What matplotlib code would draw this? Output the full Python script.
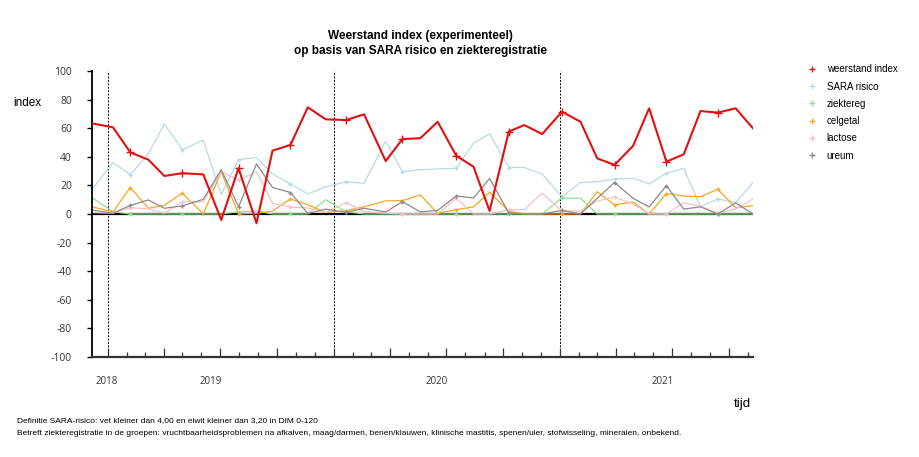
import pandas as pd
import matplotlib
matplotlib.use("Agg")
import matplotlib.pyplot as plt
import matplotlib.dates as mdates
from matplotlib.lines import Line2D
from matplotlib.transforms import blended_transform_factory

plt.rcParams['font.family'] = ['Liberation Sans', 'DejaVu Sans']
plt.rcParams['axes.unicode_minus'] = False

# meetdata
datums = pd.to_datetime([
    "2018-12-06", "2019-01-09", "2019-02-06", "2019-03-07", "2019-04-02", "2019-05-01",
    "2019-06-04", "2019-07-03", "2019-07-31", "2019-08-29", "2019-09-24", "2019-10-23",
    "2019-11-20", "2019-12-19", "2020-01-21", "2020-02-19", "2020-03-25", "2020-04-21",
    "2020-05-20", "2020-06-17", "2020-07-17", "2020-08-14", "2020-09-09", "2020-10-10",
    "2020-11-04", "2020-12-03", "2021-01-04", "2021-02-03", "2021-03-02", "2021-03-30",
    "2021-04-29", "2021-05-25", "2021-06-22", "2021-07-20", "2021-08-16", "2021-09-13",
    "2021-10-12", "2021-11-09",
])

weerstand_index = [63.4, 60.6, 43, 38, 26.6, 28.5, 27.7, -4.2, 32, -6.5, 44.3, 48.3, 74.6,
                   66.2, 65.7, 69.7, 37, 52.4, 53, 64.5, 40.8, 33, 2.1, 57.6, 62.2, 55.9,
                   71.5, 64.5, 38.9, 34.3, 47.6, 73.9, 36.6, 41.7, 72, 70.9, 73.9, 59.9]
sara_risico = [17, 36, 27.5, 42, 63, 45, 51.5, 13.5, 38, 39.5, 28, 21, 14, 19, 22.5, 21.5,
               51, 29.5, 31, 31.5, 32, 49.5, 56, 32.5, 32.5, 28, 12, 22, 22.5, 24.5, 25, 21,
               28.5, 32, 5, 10.5, 8, 22]
ziektereg = [11.5, 1.5, 0, 0, 0, 0, 0, 0, 1.5, 2, 0, 0, 0, 10, 1.5, 0, 0, 0, 0, 0, 0, 0,
             0, 0, 0, 0, 11.2, 11, 0, 0, 0, 0, 0, 0, 0, 0, 0, 0]
celgetal = [5, 1.5, 18.5, 4, 6, 14.5, 0, 29.5, 0, 0.5, 2, 10.5, 6.5, 1, 2.3, 5, 9.2, 9.3,
            13.3, 0.5, 3, 5, 15.2, 2, 0, 0, 0, 0, 15.6, 6.3, 8.4, 0, 14.3, 12.6, 12.1, 17.3,
            4.4, 5.7]
lactose = [1, 0.5, 4.5, 3.5, 0.5, 8.5, 8.5, 29.5, 23.5, 29.5, 7.5, 4.8, 4.2, 1, 8, 1.6,
           0.5, 0, 0, 0, 11, 0, 0, 3, 3, 14.5, 2.2, 2, 9, 11.8, 7, 0, 0, 7.9, 5.4, 0.5, 3.5,
           10.5]
ureum = [2.8, 0.5, 6, 9.8, 4, 5.6, 10.3, 31, 5, 35, 18.5, 15, 0.3, 3.4, 1.1, 4, 1.4, 8.6,
         1.4, 2.5, 12.6, 11.2, 24.8, 0.8, 0, 0, 2.5, 0, 11, 22, 11, 4.9, 19.8, 3.4, 5, 0,
         7.7, 0]

jaren = ["2018", "2019", "2020", "2021"]
jaar_label_pos = pd.to_datetime(["2018-12-30", "2019-06-16", "2020-06-16", "2021-06-16"])
jaar_grenzen = pd.to_datetime(["2019-01-01", "2020-01-01", "2021-01-01"])

# reeksen: naam, waarden, kleur
reeksen = [
    ("SARA risico", sara_risico, "#b5dbe6"),
    ("ziektereg", ziektereg, "#8fe08f"),
    ("celgetal", celgetal, "#f5a623"),
    ("lactose", lactose, "#f7c0c8"),
    ("ureum", ureum, "#8a8a8a"),
]

fig = plt.figure(figsize=(9.2, 4.57), dpi=100)
ax = fig.add_axes([0.1, 0.219, 0.7185, 0.6256])

ax.axhline(0, color="black", lw=1.6, zorder=1)
for grens in jaar_grenzen:
    ax.axvline(grens, color="black", lw=0.7, linestyle=(0, (2, 1.5)), zorder=1)

for naam, waarden, kleur in reeksen:
    ax.plot(datums, waarden, color=kleur, lw=0.9, marker="+", markersize=3,
            markevery=(2, 3), zorder=2)
ax.plot(datums, weerstand_index, color="#e31010", lw=1.5, marker="+", markersize=6,
        markeredgewidth=1.0, markevery=(2, 3), zorder=3)

ax.set_ylim(-100, 100)
ax.set_yticks(range(-100, 101, 20))
ax.set_xlim(datums[0], datums[-1])

ax.xaxis.set_major_locator(mdates.MonthLocator(bymonth=[1, 4, 7, 10]))
ax.xaxis.set_minor_locator(mdates.MonthLocator())
ax.xaxis.set_major_formatter(plt.NullFormatter())
ax.tick_params(axis="x", which="major", direction="in", length=6.5, width=0.9, color="#333333")
ax.tick_params(axis="x", which="minor", direction="in", length=3.5, width=0.9, color="#333333")
ax.tick_params(axis="y", direction="out", length=3.5, width=1, pad=11, labelsize=7.5,
               labelcolor="#333333")
for lbl in ax.get_yticklabels():
    lbl.set_family(["Open Sans", "DejaVu Sans"])

for s in ["top", "right"]:
    ax.spines[s].set_visible(False)
ax.spines["left"].set_linewidth(1.3)
ax.spines["bottom"].set_linewidth(1.6)
ax.spines["bottom"].set_color("#333333")

trans = blended_transform_factory(ax.transData, ax.transAxes)
for jaar, pos in zip(jaren, jaar_label_pos):
    ax.text(pos, -0.087, jaar, transform=trans, ha="center", va="center", fontsize=7,
            color="#333333", family=["Open Sans", "DejaVu Sans"])

fig.text(0.014, 0.775, "index", fontsize=8.5, ha="left", va="center")
fig.text(0.816, 0.116, "tijd", fontsize=9.5, ha="right", va="center")

fig.text(0.457, 0.904, "Weerstand index (experimenteel)\nop basis van SARA risico en ziekteregistratie",
         ha="center", va="center", fontsize=8.5, fontweight="bold", linespacing=1.35)

fig.text(0.018, 0.079, "Definitie SARA-risico: vet kleiner dan 4,00 en eiwit kleiner dan 3,20 in DIM 0-120",
         fontsize=6, va="center")
fig.text(0.018, 0.052, "Betreft ziekteregistratie in de groepen: vruchtbaarheidsproblemen na afkalven, "
         "maag/darmen, benen/klauwen, klinische mastitis, spenen/uier, stofwisseling, mineralen, onbekend.",
         fontsize=6, va="center")

handles = [Line2D([], [], color="#e31010", marker="+", linestyle="none", markersize=5)]
labels = ["weerstand index"]
for naam, waarden, kleur in reeksen:
    handles.append(Line2D([], [], color=kleur, marker="+", linestyle="none", markersize=5))
    labels.append(naam)
fig.legend(handles, labels, loc="upper left", bbox_to_anchor=(0.872, 0.87), frameon=False,
           fontsize=7, handlelength=1.0, handletextpad=1.0, labelspacing=0.75,
           borderpad=0)

fig.savefig("out.png", dpi=100)
